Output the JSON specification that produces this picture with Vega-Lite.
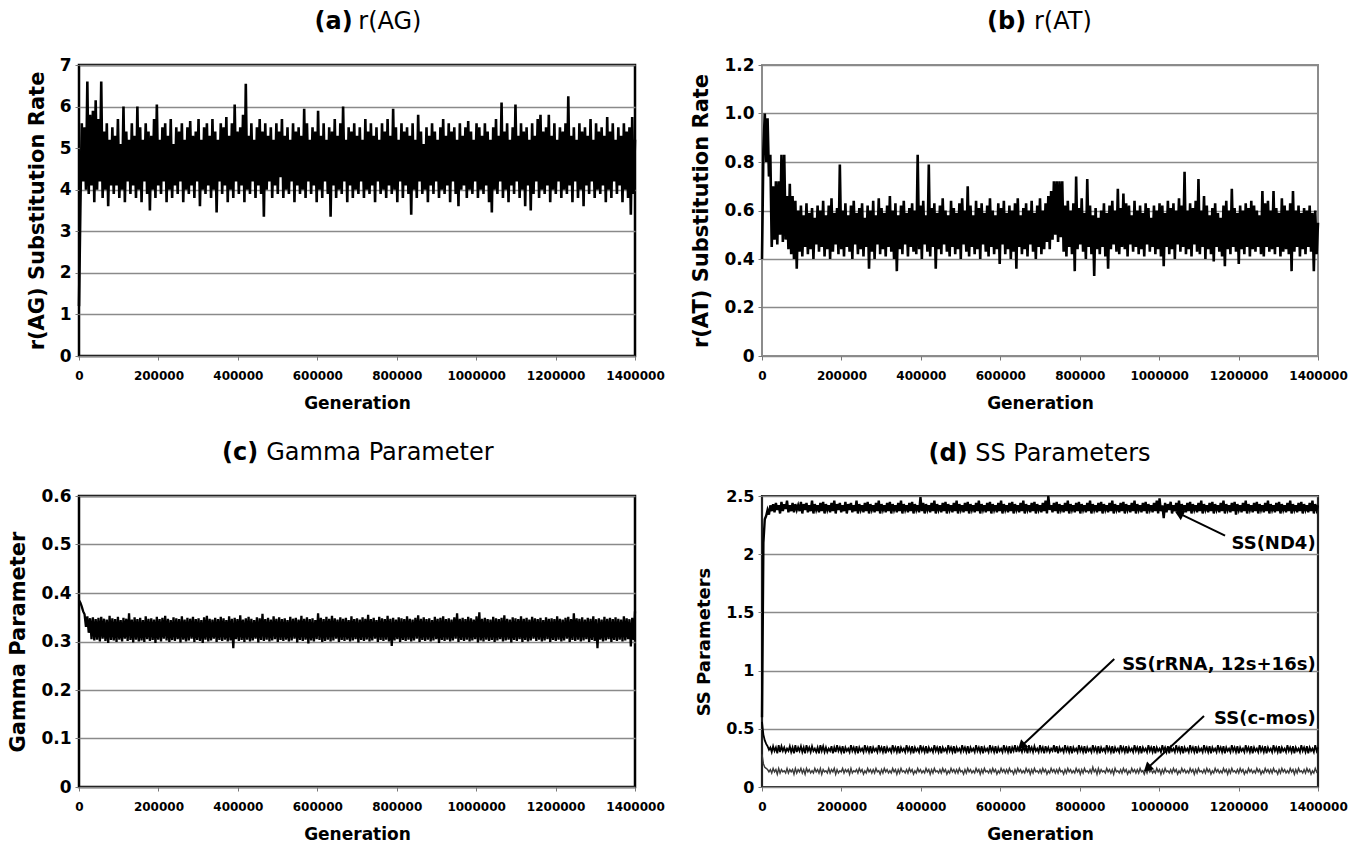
{
"$schema": "https://vega.github.io/schema/vega-lite/v6.json",
"padding": {"left": 6, "top": 8, "right": 0, "bottom": 0},
"background": "white",
"config": {
  "font": "DejaVu Sans",
  "view": {"stroke": "black", "strokeWidth": 2.5},
  "axis": {"domain": false, "labelColor": "black", "labelFontWeight": "bold", "titleColor": "black", "titleFontWeight": "bold", "tickColor": "#777", "tickSize": 4, "gridColor": "#8a8a8a", "gridWidth": 1.3},
  "axisX": {"grid": false, "labelFontSize": 12, "labelPadding": 10, "titleFontSize": 17, "titlePadding": 14, "labelFlush": false},
  "axisY": {"grid": true, "labelFontSize": 17, "labelPadding": 4, "titleFontSize": 21, "titlePadding": 12},
  "title": {"fontSize": 24, "fontWeight": "bold", "subtitleFontSize": 24, "subtitleFontWeight": "normal", "subtitlePadding": -24, "offset": 22, "color": "black", "subtitleColor": "black", "anchor": "middle"}
},
"data": {"values": [
{"g":0,"a":1.2,"b":0.40,"c":0.385,"n":0.60,"r":0.56,"m":0.28},
{"g":3500,"a":3.6,"b":0.85,"c":0.380,"n":2.10,"r":0.45,"m":0.20},
{"g":7000,"a":5.6,"b":1.00,"c":0.372,"n":2.30,"r":0.40,"m":0.17},
{"g":10500,"a":4.2,"b":0.80,"c":0.362,"n":2.33,"r":0.37,"m":0.16},
{"g":14000,"a":5.5,"b":0.98,"c":0.356,"n":2.38,"r":0.35,"m":0.15},
{"g":17500,"a":4.0,"b":0.74,"c":0.330,"n":2.34,"r":0.32,"m":0.13},
{"g":21000,"a":6.6,"b":0.83,"c":0.352,"n":2.42,"r":0.34,"m":0.15},
{"g":24500,"a":3.9,"b":0.45,"c":0.318,"n":2.37,"r":0.30,"m":0.12},
{"g":28000,"a":5.8,"b":0.70,"c":0.348,"n":2.43,"r":0.35,"m":0.16},
{"g":31500,"a":4.1,"b":0.48,"c":0.305,"n":2.36,"r":0.31,"m":0.13},
{"g":35000,"a":5.9,"b":0.72,"c":0.350,"n":2.44,"r":0.34,"m":0.15},
{"g":38500,"a":3.7,"b":0.46,"c":0.302,"n":2.38,"r":0.29,"m":0.11},
{"g":42000,"a":6.15,"b":0.72,"c":0.346,"n":2.42,"r":0.36,"m":0.16},
{"g":45500,"a":4.0,"b":0.50,"c":0.304,"n":2.35,"r":0.30,"m":0.12},
{"g":49000,"a":5.7,"b":0.83,"c":0.349,"n":2.45,"r":0.35,"m":0.15},
{"g":52500,"a":4.2,"b":0.47,"c":0.300,"n":2.37,"r":0.31,"m":0.13},
{"g":56000,"a":6.6,"b":0.83,"c":0.351,"n":2.43,"r":0.34,"m":0.14},
{"g":59500,"a":3.8,"b":0.48,"c":0.306,"n":2.39,"r":0.30,"m":0.12},
{"g":63000,"a":5.4,"b":0.66,"c":0.347,"n":2.46,"r":0.33,"m":0.16},
{"g":66500,"a":4.0,"b":0.44,"c":0.301,"n":2.36,"r":0.31,"m":0.12},
{"g":70000,"a":5.6,"b":0.71,"c":0.345,"n":2.42,"r":0.35,"m":0.15},
{"g":73500,"a":3.6,"b":0.42,"c":0.297,"n":2.37,"r":0.30,"m":0.13},
{"g":77000,"a":5.2,"b":0.66,"c":0.353,"n":2.44,"r":0.34,"m":0.15},
{"g":80500,"a":4.1,"b":0.40,"c":0.303,"n":2.36,"r":0.29,"m":0.11},
{"g":84000,"a":5.5,"b":0.64,"c":0.348,"n":2.43,"r":0.36,"m":0.16},
{"g":87500,"a":3.9,"b":0.36,"c":0.302,"n":2.38,"r":0.30,"m":0.12},
{"g":91000,"a":5.3,"b":0.60,"c":0.346,"n":2.42,"r":0.34,"m":0.15},
{"g":94500,"a":4.1,"b":0.43,"c":0.299,"n":2.37,"r":0.31,"m":0.13},
{"g":98000,"a":5.7,"b":0.62,"c":0.351,"n":2.45,"r":0.35,"m":0.16},
{"g":101500,"a":3.8,"b":0.41,"c":0.304,"n":2.35,"r":0.30,"m":0.12},
{"g":105000,"a":5.1,"b":0.58,"c":0.344,"n":2.43,"r":0.34,"m":0.15},
{"g":108500,"a":4.0,"b":0.45,"c":0.300,"n":2.38,"r":0.29,"m":0.11},
{"g":112000,"a":6.0,"b":0.63,"c":0.349,"n":2.44,"r":0.36,"m":0.16},
{"g":115500,"a":3.7,"b":0.42,"c":0.306,"n":2.36,"r":0.31,"m":0.13},
{"g":119000,"a":5.4,"b":0.59,"c":0.347,"n":2.42,"r":0.34,"m":0.15},
{"g":122500,"a":4.2,"b":0.44,"c":0.301,"n":2.37,"r":0.30,"m":0.12},
{"g":126000,"a":5.2,"b":0.61,"c":0.358,"n":2.46,"r":0.35,"m":0.14},
{"g":129500,"a":3.9,"b":0.40,"c":0.303,"n":2.35,"r":0.31,"m":0.12},
{"g":133000,"a":5.6,"b":0.57,"c":0.345,"n":2.43,"r":0.33,"m":0.16},
{"g":136500,"a":4.1,"b":0.46,"c":0.298,"n":2.38,"r":0.30,"m":0.13},
{"g":140000,"a":5.3,"b":0.62,"c":0.350,"n":2.42,"r":0.34,"m":0.15},
{"g":143500,"a":3.8,"b":0.43,"c":0.304,"n":2.36,"r":0.29,"m":0.12},
{"g":147000,"a":6.0,"b":0.60,"c":0.346,"n":2.44,"r":0.36,"m":0.16},
{"g":150500,"a":4.0,"b":0.45,"c":0.300,"n":2.37,"r":0.31,"m":0.11},
{"g":154000,"a":5.5,"b":0.64,"c":0.349,"n":2.45,"r":0.35,"m":0.15},
{"g":157500,"a":3.7,"b":0.41,"c":0.302,"n":2.35,"r":0.30,"m":0.13},
{"g":161000,"a":5.2,"b":0.58,"c":0.344,"n":2.43,"r":0.34,"m":0.14},
{"g":164500,"a":4.2,"b":0.44,"c":0.299,"n":2.38,"r":0.30,"m":0.12},
{"g":168000,"a":5.6,"b":0.62,"c":0.352,"n":2.42,"r":0.33,"m":0.16},
{"g":171500,"a":3.9,"b":0.40,"c":0.305,"n":2.36,"r":0.31,"m":0.12},
{"g":175000,"a":5.4,"b":0.65,"c":0.347,"n":2.44,"r":0.35,"m":0.15},
{"g":178500,"a":3.5,"b":0.43,"c":0.301,"n":2.37,"r":0.29,"m":0.13},
{"g":182000,"a":5.3,"b":0.59,"c":0.348,"n":2.46,"r":0.34,"m":0.16},
{"g":185500,"a":4.0,"b":0.46,"c":0.303,"n":2.35,"r":0.30,"m":0.11},
{"g":189000,"a":5.7,"b":0.61,"c":0.345,"n":2.43,"r":0.36,"m":0.15},
{"g":192500,"a":3.8,"b":0.42,"c":0.297,"n":2.38,"r":0.31,"m":0.12},
{"g":196000,"a":6.05,"b":0.79,"c":0.351,"n":2.44,"r":0.34,"m":0.14},
{"g":199500,"a":4.1,"b":0.44,"c":0.304,"n":2.36,"r":0.30,"m":0.13},
{"g":203000,"a":5.2,"b":0.60,"c":0.346,"n":2.42,"r":0.35,"m":0.16},
{"g":206500,"a":3.9,"b":0.41,"c":0.300,"n":2.37,"r":0.29,"m":0.12},
{"g":210000,"a":5.5,"b":0.63,"c":0.349,"n":2.45,"r":0.34,"m":0.15},
{"g":213500,"a":4.2,"b":0.45,"c":0.306,"n":2.35,"r":0.31,"m":0.13},
{"g":217000,"a":5.6,"b":0.58,"c":0.353,"n":2.43,"r":0.33,"m":0.15},
{"g":220500,"a":3.7,"b":0.43,"c":0.302,"n":2.38,"r":0.30,"m":0.11},
{"g":224000,"a":5.3,"b":0.62,"c":0.347,"n":2.44,"r":0.36,"m":0.16},
{"g":227500,"a":4.0,"b":0.40,"c":0.299,"n":2.36,"r":0.31,"m":0.12},
{"g":231000,"a":5.7,"b":0.64,"c":0.344,"n":2.42,"r":0.34,"m":0.14},
{"g":234500,"a":3.8,"b":0.46,"c":0.303,"n":2.37,"r":0.30,"m":0.13},
{"g":238000,"a":5.1,"b":0.59,"c":0.350,"n":2.46,"r":0.35,"m":0.15},
{"g":241500,"a":4.1,"b":0.42,"c":0.301,"n":2.35,"r":0.29,"m":0.12},
{"g":245000,"a":5.5,"b":0.61,"c":0.348,"n":2.43,"r":0.34,"m":0.16},
{"g":248500,"a":3.9,"b":0.44,"c":0.305,"n":2.38,"r":0.31,"m":0.13},
{"g":252000,"a":5.4,"b":0.63,"c":0.346,"n":2.42,"r":0.33,"m":0.15},
{"g":255500,"a":4.2,"b":0.41,"c":0.298,"n":2.36,"r":0.30,"m":0.11},
{"g":259000,"a":5.6,"b":0.57,"c":0.352,"n":2.44,"r":0.36,"m":0.14},
{"g":262500,"a":3.7,"b":0.45,"c":0.304,"n":2.37,"r":0.31,"m":0.12},
{"g":266000,"a":5.2,"b":0.62,"c":0.345,"n":2.45,"r":0.34,"m":0.16},
{"g":269500,"a":4.0,"b":0.36,"c":0.300,"n":2.35,"r":0.30,"m":0.13},
{"g":273000,"a":5.5,"b":0.60,"c":0.349,"n":2.43,"r":0.35,"m":0.15},
{"g":276500,"a":3.9,"b":0.43,"c":0.302,"n":2.38,"r":0.29,"m":0.12},
{"g":280000,"a":5.65,"b":0.64,"c":0.347,"n":2.42,"r":0.34,"m":0.15},
{"g":283500,"a":4.1,"b":0.40,"c":0.306,"n":2.36,"r":0.31,"m":0.12},
{"g":287000,"a":5.3,"b":0.58,"c":0.351,"n":2.44,"r":0.33,"m":0.16},
{"g":290500,"a":3.8,"b":0.46,"c":0.299,"n":2.37,"r":0.30,"m":0.13},
{"g":294000,"a":5.4,"b":0.65,"c":0.346,"n":2.46,"r":0.36,"m":0.14},
{"g":297500,"a":4.2,"b":0.42,"c":0.303,"n":2.35,"r":0.31,"m":0.11},
{"g":301000,"a":5.7,"b":0.61,"c":0.348,"n":2.43,"r":0.34,"m":0.15},
{"g":304500,"a":3.6,"b":0.44,"c":0.301,"n":2.38,"r":0.30,"m":0.12},
{"g":308000,"a":5.2,"b":0.59,"c":0.344,"n":2.42,"r":0.35,"m":0.16},
{"g":311500,"a":4.0,"b":0.41,"c":0.297,"n":2.36,"r":0.29,"m":0.13},
{"g":315000,"a":5.5,"b":0.62,"c":0.350,"n":2.44,"r":0.34,"m":0.15},
{"g":318500,"a":3.9,"b":0.45,"c":0.304,"n":2.37,"r":0.31,"m":0.12},
{"g":322000,"a":5.6,"b":0.66,"c":0.353,"n":2.45,"r":0.33,"m":0.14},
{"g":325500,"a":4.1,"b":0.43,"c":0.300,"n":2.35,"r":0.30,"m":0.12},
{"g":329000,"a":5.3,"b":0.60,"c":0.347,"n":2.43,"r":0.36,"m":0.16},
{"g":332500,"a":3.8,"b":0.40,"c":0.302,"n":2.38,"r":0.31,"m":0.13},
{"g":336000,"a":5.7,"b":0.63,"c":0.345,"n":2.42,"r":0.34,"m":0.15},
{"g":339500,"a":4.0,"b":0.35,"c":0.306,"n":2.36,"r":0.30,"m":0.11},
{"g":343000,"a":5.4,"b":0.58,"c":0.349,"n":2.44,"r":0.35,"m":0.15},
{"g":346500,"a":3.45,"b":0.44,"c":0.299,"n":2.37,"r":0.29,"m":0.12},
{"g":350000,"a":5.2,"b":0.62,"c":0.346,"n":2.46,"r":0.34,"m":0.16},
{"g":353500,"a":4.2,"b":0.42,"c":0.303,"n":2.35,"r":0.31,"m":0.13},
{"g":357000,"a":5.6,"b":0.64,"c":0.351,"n":2.43,"r":0.33,"m":0.14},
{"g":360500,"a":3.9,"b":0.46,"c":0.301,"n":2.38,"r":0.30,"m":0.12},
{"g":364000,"a":5.5,"b":0.59,"c":0.348,"n":2.42,"r":0.36,"m":0.15},
{"g":367500,"a":4.1,"b":0.41,"c":0.304,"n":2.36,"r":0.31,"m":0.12},
{"g":371000,"a":5.75,"b":0.61,"c":0.344,"n":2.44,"r":0.34,"m":0.16},
{"g":374500,"a":3.7,"b":0.45,"c":0.300,"n":2.37,"r":0.30,"m":0.13},
{"g":378000,"a":5.3,"b":0.63,"c":0.352,"n":2.45,"r":0.35,"m":0.15},
{"g":381500,"a":4.0,"b":0.43,"c":0.302,"n":2.35,"r":0.29,"m":0.11},
{"g":385000,"a":5.6,"b":0.60,"c":0.347,"n":2.43,"r":0.34,"m":0.14},
{"g":388500,"a":3.8,"b":0.42,"c":0.286,"n":2.38,"r":0.31,"m":0.12},
{"g":392000,"a":6.05,"b":0.83,"c":0.349,"n":2.42,"r":0.33,"m":0.16},
{"g":395500,"a":4.2,"b":0.44,"c":0.305,"n":2.36,"r":0.30,"m":0.13},
{"g":399000,"a":5.4,"b":0.62,"c":0.346,"n":2.49,"r":0.36,"m":0.15},
{"g":402500,"a":3.9,"b":0.40,"c":0.301,"n":2.37,"r":0.31,"m":0.12},
{"g":406000,"a":5.5,"b":0.64,"c":0.354,"n":2.44,"r":0.34,"m":0.14},
{"g":409500,"a":4.1,"b":0.46,"c":0.303,"n":2.35,"r":0.30,"m":0.12},
{"g":413000,"a":5.8,"b":0.58,"c":0.345,"n":2.43,"r":0.35,"m":0.16},
{"g":416500,"a":3.7,"b":0.43,"c":0.299,"n":2.38,"r":0.29,"m":0.13},
{"g":420000,"a":6.55,"b":0.79,"c":0.348,"n":2.42,"r":0.34,"m":0.15},
{"g":423500,"a":4.0,"b":0.41,"c":0.304,"n":2.36,"r":0.31,"m":0.11},
{"g":427000,"a":5.3,"b":0.61,"c":0.351,"n":2.44,"r":0.33,"m":0.15},
{"g":430500,"a":3.9,"b":0.45,"c":0.300,"n":2.37,"r":0.30,"m":0.12},
{"g":434000,"a":5.6,"b":0.63,"c":0.347,"n":2.46,"r":0.36,"m":0.16},
{"g":437500,"a":4.2,"b":0.36,"c":0.302,"n":2.35,"r":0.31,"m":0.13},
{"g":441000,"a":5.2,"b":0.59,"c":0.344,"n":2.43,"r":0.34,"m":0.14},
{"g":444500,"a":3.8,"b":0.44,"c":0.306,"n":2.38,"r":0.30,"m":0.12},
{"g":448000,"a":5.5,"b":0.62,"c":0.350,"n":2.42,"r":0.35,"m":0.15},
{"g":451500,"a":4.1,"b":0.42,"c":0.298,"n":2.36,"r":0.29,"m":0.12},
{"g":455000,"a":5.7,"b":0.65,"c":0.348,"n":2.44,"r":0.34,"m":0.16},
{"g":458500,"a":3.9,"b":0.46,"c":0.303,"n":2.37,"r":0.31,"m":0.13},
{"g":462000,"a":5.4,"b":0.60,"c":0.357,"n":2.45,"r":0.33,"m":0.15},
{"g":465500,"a":3.35,"b":0.43,"c":0.301,"n":2.35,"r":0.30,"m":0.11},
{"g":469000,"a":5.6,"b":0.58,"c":0.346,"n":2.43,"r":0.36,"m":0.14},
{"g":472500,"a":4.0,"b":0.41,"c":0.304,"n":2.38,"r":0.31,"m":0.12},
{"g":476000,"a":5.3,"b":0.64,"c":0.349,"n":2.42,"r":0.34,"m":0.16},
{"g":479500,"a":4.2,"b":0.45,"c":0.300,"n":2.36,"r":0.30,"m":0.13},
{"g":483000,"a":5.5,"b":0.61,"c":0.345,"n":2.44,"r":0.35,"m":0.15},
{"g":486500,"a":3.8,"b":0.42,"c":0.302,"n":2.37,"r":0.29,"m":0.12},
{"g":490000,"a":5.2,"b":0.59,"c":0.352,"n":2.46,"r":0.34,"m":0.15},
{"g":493500,"a":4.1,"b":0.44,"c":0.305,"n":2.35,"r":0.31,"m":0.12},
{"g":497000,"a":5.6,"b":0.63,"c":0.347,"n":2.43,"r":0.33,"m":0.16},
{"g":500500,"a":3.9,"b":0.40,"c":0.299,"n":2.38,"r":0.30,"m":0.13},
{"g":504000,"a":5.4,"b":0.65,"c":0.350,"n":2.42,"r":0.36,"m":0.14},
{"g":507500,"a":4.3,"b":0.46,"c":0.303,"n":2.36,"r":0.31,"m":0.11},
{"g":511000,"a":5.7,"b":0.60,"c":0.346,"n":2.44,"r":0.34,"m":0.15},
{"g":514500,"a":3.8,"b":0.43,"c":0.301,"n":2.37,"r":0.30,"m":0.12},
{"g":518000,"a":5.3,"b":0.70,"c":0.348,"n":2.45,"r":0.35,"m":0.16},
{"g":521500,"a":4.0,"b":0.41,"c":0.304,"n":2.35,"r":0.29,"m":0.13},
{"g":525000,"a":5.5,"b":0.62,"c":0.344,"n":2.43,"r":0.34,"m":0.15},
{"g":528500,"a":3.9,"b":0.45,"c":0.300,"n":2.38,"r":0.31,"m":0.12},
{"g":532000,"a":5.2,"b":0.58,"c":0.351,"n":2.42,"r":0.33,"m":0.14},
{"g":535500,"a":4.2,"b":0.42,"c":0.302,"n":2.36,"r":0.30,"m":0.12},
{"g":539000,"a":5.6,"b":0.64,"c":0.347,"n":2.44,"r":0.36,"m":0.16},
{"g":542500,"a":3.7,"b":0.44,"c":0.306,"n":2.37,"r":0.31,"m":0.13},
{"g":546000,"a":5.4,"b":0.61,"c":0.349,"n":2.46,"r":0.34,"m":0.15},
{"g":549500,"a":4.1,"b":0.40,"c":0.298,"n":2.35,"r":0.30,"m":0.11},
{"g":553000,"a":5.5,"b":0.63,"c":0.345,"n":2.43,"r":0.35,"m":0.15},
{"g":556500,"a":3.9,"b":0.46,"c":0.303,"n":2.38,"r":0.29,"m":0.12},
{"g":560000,"a":5.3,"b":0.59,"c":0.353,"n":2.42,"r":0.34,"m":0.16},
{"g":563500,"a":4.0,"b":0.43,"c":0.301,"n":2.36,"r":0.31,"m":0.13},
{"g":567000,"a":5.95,"b":0.62,"c":0.347,"n":2.44,"r":0.33,"m":0.14},
{"g":570500,"a":3.8,"b":0.41,"c":0.304,"n":2.37,"r":0.30,"m":0.12},
{"g":574000,"a":5.6,"b":0.65,"c":0.350,"n":2.45,"r":0.36,"m":0.15},
{"g":577500,"a":4.2,"b":0.45,"c":0.296,"n":2.35,"r":0.31,"m":0.12},
{"g":581000,"a":5.2,"b":0.60,"c":0.346,"n":2.43,"r":0.34,"m":0.16},
{"g":584500,"a":3.9,"b":0.42,"c":0.302,"n":2.38,"r":0.30,"m":0.13},
{"g":588000,"a":5.5,"b":0.58,"c":0.348,"n":2.42,"r":0.35,"m":0.15},
{"g":591500,"a":4.1,"b":0.44,"c":0.300,"n":2.36,"r":0.29,"m":0.11},
{"g":595000,"a":5.4,"b":0.63,"c":0.344,"n":2.44,"r":0.34,"m":0.14},
{"g":598500,"a":3.7,"b":0.38,"c":0.305,"n":2.37,"r":0.31,"m":0.12},
{"g":602000,"a":5.9,"b":0.61,"c":0.358,"n":2.46,"r":0.33,"m":0.16},
{"g":605500,"a":4.0,"b":0.46,"c":0.303,"n":2.35,"r":0.30,"m":0.13},
{"g":609000,"a":5.3,"b":0.64,"c":0.349,"n":2.43,"r":0.36,"m":0.15},
{"g":612500,"a":3.8,"b":0.42,"c":0.299,"n":2.38,"r":0.31,"m":0.12},
{"g":616000,"a":5.6,"b":0.59,"c":0.346,"n":2.42,"r":0.34,"m":0.15},
{"g":619500,"a":4.2,"b":0.44,"c":0.301,"n":2.36,"r":0.30,"m":0.12},
{"g":623000,"a":5.2,"b":0.62,"c":0.351,"n":2.44,"r":0.35,"m":0.16},
{"g":626500,"a":3.9,"b":0.40,"c":0.304,"n":2.37,"r":0.29,"m":0.13},
{"g":630000,"a":5.5,"b":0.60,"c":0.347,"n":2.45,"r":0.34,"m":0.14},
{"g":633500,"a":3.35,"b":0.43,"c":0.300,"n":2.35,"r":0.31,"m":0.11},
{"g":637000,"a":5.4,"b":0.63,"c":0.353,"n":2.43,"r":0.36,"m":0.15},
{"g":640500,"a":4.1,"b":0.36,"c":0.302,"n":2.38,"r":0.30,"m":0.12},
{"g":644000,"a":5.7,"b":0.65,"c":0.348,"n":2.42,"r":0.34,"m":0.16},
{"g":647500,"a":3.8,"b":0.45,"c":0.306,"n":2.36,"r":0.31,"m":0.13},
{"g":651000,"a":5.3,"b":0.58,"c":0.345,"n":2.44,"r":0.33,"m":0.15},
{"g":654500,"a":4.0,"b":0.42,"c":0.299,"n":2.37,"r":0.30,"m":0.12},
{"g":658000,"a":5.6,"b":0.61,"c":0.350,"n":2.46,"r":0.35,"m":0.14},
{"g":661500,"a":3.9,"b":0.44,"c":0.303,"n":2.35,"r":0.31,"m":0.12},
{"g":665000,"a":6.0,"b":0.63,"c":0.347,"n":2.43,"r":0.34,"m":0.16},
{"g":668500,"a":4.2,"b":0.41,"c":0.301,"n":2.38,"r":0.29,"m":0.13},
{"g":672000,"a":5.2,"b":0.60,"c":0.349,"n":2.42,"r":0.36,"m":0.15},
{"g":675500,"a":3.7,"b":0.46,"c":0.304,"n":2.36,"r":0.31,"m":0.11},
{"g":679000,"a":5.5,"b":0.64,"c":0.344,"n":2.44,"r":0.34,"m":0.15},
{"g":682500,"a":4.1,"b":0.43,"c":0.300,"n":2.37,"r":0.30,"m":0.12},
{"g":686000,"a":5.4,"b":0.59,"c":0.352,"n":2.45,"r":0.35,"m":0.16},
{"g":689500,"a":3.8,"b":0.40,"c":0.302,"n":2.35,"r":0.31,"m":0.13},
{"g":693000,"a":5.6,"b":0.62,"c":0.346,"n":2.43,"r":0.33,"m":0.14},
{"g":696500,"a":4.0,"b":0.45,"c":0.305,"n":2.38,"r":0.30,"m":0.12},
{"g":700000,"a":5.3,"b":0.65,"c":0.348,"n":2.42,"r":0.36,"m":0.15},
{"g":703500,"a":3.9,"b":0.42,"c":0.298,"n":2.36,"r":0.31,"m":0.12},
{"g":707000,"a":5.5,"b":0.60,"c":0.345,"n":2.44,"r":0.34,"m":0.16},
{"g":710500,"a":4.2,"b":0.44,"c":0.303,"n":2.37,"r":0.29,"m":0.13},
{"g":714000,"a":5.2,"b":0.63,"c":0.350,"n":2.46,"r":0.35,"m":0.15},
{"g":717500,"a":3.8,"b":0.47,"c":0.301,"n":2.35,"r":0.31,"m":0.11},
{"g":721000,"a":5.7,"b":0.66,"c":0.347,"n":2.50,"r":0.34,"m":0.14},
{"g":724500,"a":4.0,"b":0.44,"c":0.304,"n":2.38,"r":0.30,"m":0.12},
{"g":728000,"a":5.4,"b":0.68,"c":0.355,"n":2.42,"r":0.33,"m":0.16},
{"g":731500,"a":3.9,"b":0.48,"c":0.300,"n":2.36,"r":0.31,"m":0.13},
{"g":735000,"a":5.6,"b":0.72,"c":0.346,"n":2.44,"r":0.36,"m":0.15},
{"g":738500,"a":4.1,"b":0.50,"c":0.302,"n":2.37,"r":0.30,"m":0.12},
{"g":742000,"a":5.3,"b":0.72,"c":0.349,"n":2.45,"r":0.35,"m":0.15},
{"g":745500,"a":3.7,"b":0.47,"c":0.306,"n":2.35,"r":0.29,"m":0.12},
{"g":749000,"a":5.5,"b":0.72,"c":0.344,"n":2.43,"r":0.34,"m":0.16},
{"g":752500,"a":4.2,"b":0.49,"c":0.299,"n":2.38,"r":0.31,"m":0.13},
{"g":756000,"a":5.2,"b":0.72,"c":0.351,"n":2.42,"r":0.33,"m":0.14},
{"g":759500,"a":3.9,"b":0.43,"c":0.303,"n":2.36,"r":0.30,"m":0.11},
{"g":763000,"a":5.6,"b":0.62,"c":0.348,"n":2.44,"r":0.36,"m":0.15},
{"g":766500,"a":4.0,"b":0.41,"c":0.301,"n":2.37,"r":0.31,"m":0.12},
{"g":770000,"a":5.4,"b":0.64,"c":0.346,"n":2.46,"r":0.34,"m":0.16},
{"g":773500,"a":3.8,"b":0.45,"c":0.304,"n":2.35,"r":0.30,"m":0.13},
{"g":777000,"a":5.7,"b":0.60,"c":0.353,"n":2.43,"r":0.35,"m":0.15},
{"g":780500,"a":4.1,"b":0.42,"c":0.300,"n":2.38,"r":0.29,"m":0.12},
{"g":784000,"a":5.3,"b":0.63,"c":0.347,"n":2.42,"r":0.34,"m":0.14},
{"g":787500,"a":3.9,"b":0.35,"c":0.291,"n":2.36,"r":0.31,"m":0.12},
{"g":791000,"a":5.95,"b":0.74,"c":0.349,"n":2.44,"r":0.33,"m":0.16},
{"g":794500,"a":4.0,"b":0.44,"c":0.302,"n":2.37,"r":0.30,"m":0.13},
{"g":798000,"a":5.5,"b":0.61,"c":0.345,"n":2.45,"r":0.36,"m":0.15},
{"g":801500,"a":3.7,"b":0.46,"c":0.305,"n":2.35,"r":0.31,"m":0.11},
{"g":805000,"a":5.2,"b":0.65,"c":0.350,"n":2.43,"r":0.34,"m":0.15},
{"g":808500,"a":4.2,"b":0.43,"c":0.299,"n":2.38,"r":0.30,"m":0.12},
{"g":812000,"a":5.6,"b":0.59,"c":0.348,"n":2.42,"r":0.35,"m":0.16},
{"g":815500,"a":3.8,"b":0.40,"c":0.303,"n":2.36,"r":0.29,"m":0.13},
{"g":819000,"a":5.4,"b":0.73,"c":0.346,"n":2.44,"r":0.34,"m":0.14},
{"g":822500,"a":4.1,"b":0.45,"c":0.301,"n":2.37,"r":0.31,"m":0.12},
{"g":826000,"a":5.5,"b":0.62,"c":0.352,"n":2.46,"r":0.33,"m":0.15},
{"g":829500,"a":3.9,"b":0.42,"c":0.304,"n":2.35,"r":0.30,"m":0.12},
{"g":833000,"a":5.3,"b":0.58,"c":0.347,"n":2.43,"r":0.36,"m":0.17},
{"g":836500,"a":3.4,"b":0.33,"c":0.300,"n":2.38,"r":0.31,"m":0.13},
{"g":840000,"a":5.6,"b":0.61,"c":0.345,"n":2.42,"r":0.34,"m":0.15},
{"g":843500,"a":4.0,"b":0.44,"c":0.302,"n":2.36,"r":0.30,"m":0.11},
{"g":847000,"a":5.2,"b":0.57,"c":0.349,"n":2.44,"r":0.35,"m":0.16},
{"g":850500,"a":3.8,"b":0.42,"c":0.306,"n":2.37,"r":0.29,"m":0.12},
{"g":854000,"a":5.8,"b":0.60,"c":0.354,"n":2.45,"r":0.34,"m":0.15},
{"g":857500,"a":4.2,"b":0.45,"c":0.299,"n":2.35,"r":0.31,"m":0.13},
{"g":861000,"a":5.4,"b":0.63,"c":0.347,"n":2.43,"r":0.33,"m":0.14},
{"g":864500,"a":3.9,"b":0.41,"c":0.303,"n":2.38,"r":0.30,"m":0.12},
{"g":868000,"a":5.1,"b":0.59,"c":0.350,"n":2.42,"r":0.36,"m":0.16},
{"g":871500,"a":4.0,"b":0.36,"c":0.301,"n":2.36,"r":0.31,"m":0.13},
{"g":875000,"a":5.5,"b":0.62,"c":0.346,"n":2.44,"r":0.34,"m":0.15},
{"g":878500,"a":3.7,"b":0.44,"c":0.304,"n":2.37,"r":0.30,"m":0.12},
{"g":882000,"a":5.3,"b":0.64,"c":0.348,"n":2.46,"r":0.35,"m":0.15},
{"g":885500,"a":4.1,"b":0.46,"c":0.300,"n":2.35,"r":0.29,"m":0.11},
{"g":889000,"a":5.6,"b":0.60,"c":0.344,"n":2.43,"r":0.34,"m":0.16},
{"g":892500,"a":3.9,"b":0.43,"c":0.302,"n":2.38,"r":0.31,"m":0.13},
{"g":896000,"a":5.4,"b":0.69,"c":0.351,"n":2.42,"r":0.33,"m":0.14},
{"g":899500,"a":4.2,"b":0.42,"c":0.305,"n":2.36,"r":0.30,"m":0.12},
{"g":903000,"a":5.2,"b":0.61,"c":0.347,"n":2.44,"r":0.36,"m":0.15},
{"g":906500,"a":3.8,"b":0.45,"c":0.297,"n":2.37,"r":0.31,"m":0.12},
{"g":910000,"a":5.5,"b":0.67,"c":0.349,"n":2.45,"r":0.34,"m":0.16},
{"g":913500,"a":4.0,"b":0.44,"c":0.303,"n":2.35,"r":0.30,"m":0.13},
{"g":917000,"a":5.7,"b":0.63,"c":0.352,"n":2.43,"r":0.35,"m":0.15},
{"g":920500,"a":3.9,"b":0.41,"c":0.301,"n":2.38,"r":0.29,"m":0.11},
{"g":924000,"a":5.3,"b":0.62,"c":0.346,"n":2.42,"r":0.34,"m":0.14},
{"g":927500,"a":4.1,"b":0.46,"c":0.304,"n":2.36,"r":0.31,"m":0.12},
{"g":931000,"a":5.6,"b":0.58,"c":0.348,"n":2.44,"r":0.33,"m":0.16},
{"g":934500,"a":3.7,"b":0.43,"c":0.300,"n":2.37,"r":0.30,"m":0.13},
{"g":938000,"a":5.4,"b":0.64,"c":0.345,"n":2.46,"r":0.36,"m":0.15},
{"g":941500,"a":4.2,"b":0.45,"c":0.302,"n":2.35,"r":0.31,"m":0.12},
{"g":945000,"a":5.5,"b":0.60,"c":0.350,"n":2.43,"r":0.34,"m":0.15},
{"g":948500,"a":3.9,"b":0.42,"c":0.306,"n":2.38,"r":0.30,"m":0.12},
{"g":952000,"a":5.2,"b":0.62,"c":0.358,"n":2.42,"r":0.35,"m":0.16},
{"g":955500,"a":3.6,"b":0.44,"c":0.299,"n":2.36,"r":0.29,"m":0.13},
{"g":959000,"a":5.6,"b":0.59,"c":0.347,"n":2.44,"r":0.34,"m":0.14},
{"g":962500,"a":4.0,"b":0.41,"c":0.303,"n":2.37,"r":0.31,"m":0.11},
{"g":966000,"a":5.3,"b":0.63,"c":0.349,"n":2.45,"r":0.33,"m":0.15},
{"g":969500,"a":4.1,"b":0.46,"c":0.301,"n":2.35,"r":0.30,"m":0.12},
{"g":973000,"a":5.5,"b":0.61,"c":0.346,"n":2.43,"r":0.36,"m":0.16},
{"g":976500,"a":3.8,"b":0.43,"c":0.304,"n":2.38,"r":0.31,"m":0.13},
{"g":980000,"a":5.65,"b":0.57,"c":0.351,"n":2.42,"r":0.34,"m":0.15},
{"g":983500,"a":4.0,"b":0.45,"c":0.300,"n":2.36,"r":0.30,"m":0.12},
{"g":987000,"a":5.4,"b":0.62,"c":0.348,"n":2.44,"r":0.35,"m":0.14},
{"g":990500,"a":3.9,"b":0.42,"c":0.302,"n":2.37,"r":0.29,"m":0.12},
{"g":994000,"a":5.2,"b":0.60,"c":0.345,"n":2.46,"r":0.34,"m":0.16},
{"g":997500,"a":4.2,"b":0.44,"c":0.305,"n":2.35,"r":0.31,"m":0.13},
{"g":1001000,"a":5.6,"b":0.63,"c":0.352,"n":2.48,"r":0.33,"m":0.15},
{"g":1004500,"a":3.8,"b":0.41,"c":0.298,"n":2.37,"r":0.30,"m":0.11},
{"g":1008000,"a":5.5,"b":0.62,"c":0.360,"n":2.42,"r":0.36,"m":0.15},
{"g":1011500,"a":4.0,"b":0.37,"c":0.302,"n":2.31,"r":0.31,"m":0.12},
{"g":1015000,"a":5.3,"b":0.59,"c":0.347,"n":2.44,"r":0.34,"m":0.16},
{"g":1018500,"a":3.9,"b":0.45,"c":0.300,"n":2.36,"r":0.30,"m":0.13},
{"g":1022000,"a":5.6,"b":0.64,"c":0.349,"n":2.43,"r":0.35,"m":0.14},
{"g":1025500,"a":4.1,"b":0.42,"c":0.304,"n":2.38,"r":0.29,"m":0.12},
{"g":1029000,"a":5.4,"b":0.61,"c":0.346,"n":2.45,"r":0.34,"m":0.15},
{"g":1032500,"a":3.7,"b":0.44,"c":0.301,"n":2.35,"r":0.31,"m":0.12},
{"g":1036000,"a":5.2,"b":0.63,"c":0.345,"n":2.42,"r":0.33,"m":0.16},
{"g":1039500,"a":3.45,"b":0.40,"c":0.303,"n":2.37,"r":0.30,"m":0.13},
{"g":1043000,"a":5.5,"b":0.60,"c":0.351,"n":2.44,"r":0.36,"m":0.15},
{"g":1046500,"a":4.0,"b":0.46,"c":0.299,"n":2.36,"r":0.31,"m":0.11},
{"g":1050000,"a":5.7,"b":0.65,"c":0.348,"n":2.46,"r":0.34,"m":0.14},
{"g":1053500,"a":3.9,"b":0.43,"c":0.302,"n":2.35,"r":0.30,"m":0.12},
{"g":1057000,"a":5.3,"b":0.62,"c":0.346,"n":2.43,"r":0.35,"m":0.16},
{"g":1060500,"a":4.2,"b":0.45,"c":0.305,"n":2.38,"r":0.29,"m":0.13},
{"g":1064000,"a":6.1,"b":0.76,"c":0.349,"n":2.42,"r":0.34,"m":0.15},
{"g":1067500,"a":3.8,"b":0.42,"c":0.300,"n":2.36,"r":0.31,"m":0.12},
{"g":1071000,"a":5.4,"b":0.60,"c":0.354,"n":2.44,"r":0.33,"m":0.14},
{"g":1074500,"a":4.0,"b":0.44,"c":0.302,"n":2.37,"r":0.30,"m":0.12},
{"g":1078000,"a":5.6,"b":0.63,"c":0.347,"n":2.45,"r":0.36,"m":0.16},
{"g":1081500,"a":3.7,"b":0.41,"c":0.304,"n":2.35,"r":0.31,"m":0.13},
{"g":1085000,"a":5.2,"b":0.61,"c":0.345,"n":2.43,"r":0.34,"m":0.15},
{"g":1088500,"a":4.1,"b":0.46,"c":0.298,"n":2.38,"r":0.30,"m":0.11},
{"g":1092000,"a":5.5,"b":0.64,"c":0.350,"n":2.42,"r":0.35,"m":0.15},
{"g":1095500,"a":3.9,"b":0.43,"c":0.303,"n":2.36,"r":0.29,"m":0.12},
{"g":1099000,"a":6.05,"b":0.73,"c":0.348,"n":2.44,"r":0.34,"m":0.16},
{"g":1102500,"a":4.2,"b":0.42,"c":0.301,"n":2.37,"r":0.31,"m":0.13},
{"g":1106000,"a":5.3,"b":0.60,"c":0.346,"n":2.46,"r":0.33,"m":0.14},
{"g":1109500,"a":3.8,"b":0.45,"c":0.305,"n":2.35,"r":0.30,"m":0.12},
{"g":1113000,"a":5.6,"b":0.66,"c":0.352,"n":2.43,"r":0.36,"m":0.15},
{"g":1116500,"a":4.0,"b":0.40,"c":0.299,"n":2.38,"r":0.31,"m":0.12},
{"g":1120000,"a":5.4,"b":0.62,"c":0.347,"n":2.42,"r":0.34,"m":0.16},
{"g":1123500,"a":3.6,"b":0.44,"c":0.303,"n":2.36,"r":0.30,"m":0.13},
{"g":1127000,"a":5.5,"b":0.58,"c":0.349,"n":2.44,"r":0.35,"m":0.15},
{"g":1130500,"a":4.1,"b":0.42,"c":0.300,"n":2.37,"r":0.29,"m":0.11},
{"g":1134000,"a":5.2,"b":0.61,"c":0.345,"n":2.45,"r":0.34,"m":0.14},
{"g":1137500,"a":3.5,"b":0.39,"c":0.302,"n":2.35,"r":0.31,"m":0.12},
{"g":1141000,"a":5.6,"b":0.63,"c":0.351,"n":2.43,"r":0.33,"m":0.16},
{"g":1144500,"a":3.9,"b":0.45,"c":0.306,"n":2.38,"r":0.30,"m":0.13},
{"g":1148000,"a":5.3,"b":0.59,"c":0.348,"n":2.42,"r":0.36,"m":0.15},
{"g":1151500,"a":4.2,"b":0.43,"c":0.301,"n":2.36,"r":0.31,"m":0.12},
{"g":1155000,"a":5.7,"b":0.57,"c":0.346,"n":2.44,"r":0.34,"m":0.14},
{"g":1158500,"a":3.8,"b":0.41,"c":0.304,"n":2.37,"r":0.30,"m":0.12},
{"g":1162000,"a":5.8,"b":0.62,"c":0.349,"n":2.46,"r":0.35,"m":0.16},
{"g":1165500,"a":4.0,"b":0.37,"c":0.300,"n":2.35,"r":0.29,"m":0.13},
{"g":1169000,"a":5.4,"b":0.64,"c":0.344,"n":2.43,"r":0.34,"m":0.15},
{"g":1172500,"a":3.9,"b":0.44,"c":0.302,"n":2.38,"r":0.31,"m":0.11},
{"g":1176000,"a":5.5,"b":0.60,"c":0.350,"n":2.42,"r":0.33,"m":0.15},
{"g":1179500,"a":4.1,"b":0.42,"c":0.305,"n":2.36,"r":0.30,"m":0.12},
{"g":1183000,"a":5.8,"b":0.69,"c":0.347,"n":2.44,"r":0.36,"m":0.16},
{"g":1186500,"a":3.7,"b":0.45,"c":0.299,"n":2.37,"r":0.31,"m":0.13},
{"g":1190000,"a":5.3,"b":0.61,"c":0.348,"n":2.45,"r":0.34,"m":0.14},
{"g":1193500,"a":4.0,"b":0.43,"c":0.303,"n":2.34,"r":0.30,"m":0.12},
{"g":1197000,"a":5.6,"b":0.59,"c":0.346,"n":2.43,"r":0.35,"m":0.15},
{"g":1200500,"a":3.9,"b":0.38,"c":0.301,"n":2.38,"r":0.29,"m":0.12},
{"g":1204000,"a":5.2,"b":0.62,"c":0.352,"n":2.42,"r":0.34,"m":0.16},
{"g":1207500,"a":4.2,"b":0.44,"c":0.304,"n":2.36,"r":0.31,"m":0.13},
{"g":1211000,"a":5.5,"b":0.60,"c":0.347,"n":2.44,"r":0.33,"m":0.15},
{"g":1214500,"a":3.8,"b":0.42,"c":0.300,"n":2.37,"r":0.30,"m":0.11},
{"g":1218000,"a":5.4,"b":0.63,"c":0.345,"n":2.46,"r":0.36,"m":0.14},
{"g":1221500,"a":4.0,"b":0.45,"c":0.302,"n":2.35,"r":0.31,"m":0.12},
{"g":1225000,"a":5.6,"b":0.61,"c":0.349,"n":2.43,"r":0.34,"m":0.16},
{"g":1228500,"a":3.9,"b":0.41,"c":0.306,"n":2.38,"r":0.30,"m":0.13},
{"g":1232000,"a":6.25,"b":0.64,"c":0.351,"n":2.42,"r":0.35,"m":0.15},
{"g":1235500,"a":4.1,"b":0.44,"c":0.299,"n":2.36,"r":0.29,"m":0.12},
{"g":1239000,"a":5.3,"b":0.62,"c":0.346,"n":2.44,"r":0.34,"m":0.14},
{"g":1242500,"a":3.7,"b":0.43,"c":0.303,"n":2.37,"r":0.31,"m":0.12},
{"g":1246000,"a":5.5,"b":0.60,"c":0.358,"n":2.45,"r":0.33,"m":0.16},
{"g":1249500,"a":4.2,"b":0.45,"c":0.301,"n":2.35,"r":0.30,"m":0.13},
{"g":1253000,"a":5.2,"b":0.58,"c":0.348,"n":2.43,"r":0.36,"m":0.15},
{"g":1256500,"a":3.8,"b":0.42,"c":0.304,"n":2.38,"r":0.31,"m":0.11},
{"g":1260000,"a":5.6,"b":0.68,"c":0.347,"n":2.42,"r":0.34,"m":0.14},
{"g":1263500,"a":4.0,"b":0.41,"c":0.300,"n":2.36,"r":0.30,"m":0.12},
{"g":1267000,"a":5.4,"b":0.63,"c":0.350,"n":2.44,"r":0.35,"m":0.16},
{"g":1270500,"a":3.6,"b":0.45,"c":0.302,"n":2.37,"r":0.29,"m":0.13},
{"g":1274000,"a":5.5,"b":0.64,"c":0.345,"n":2.46,"r":0.34,"m":0.15},
{"g":1277500,"a":4.1,"b":0.43,"c":0.305,"n":2.35,"r":0.31,"m":0.12},
{"g":1281000,"a":5.3,"b":0.60,"c":0.349,"n":2.43,"r":0.33,"m":0.15},
{"g":1284500,"a":3.9,"b":0.44,"c":0.299,"n":2.38,"r":0.30,"m":0.12},
{"g":1288000,"a":5.7,"b":0.68,"c":0.347,"n":2.42,"r":0.36,"m":0.16},
{"g":1291500,"a":4.2,"b":0.42,"c":0.303,"n":2.36,"r":0.31,"m":0.13},
{"g":1295000,"a":5.2,"b":0.61,"c":0.352,"n":2.44,"r":0.34,"m":0.14},
{"g":1298500,"a":3.8,"b":0.45,"c":0.301,"n":2.37,"r":0.30,"m":0.11},
{"g":1302000,"a":5.6,"b":0.59,"c":0.346,"n":2.45,"r":0.35,"m":0.15},
{"g":1305500,"a":4.0,"b":0.41,"c":0.286,"n":2.35,"r":0.29,"m":0.12},
{"g":1309000,"a":5.4,"b":0.65,"c":0.348,"n":2.43,"r":0.34,"m":0.16},
{"g":1312500,"a":3.9,"b":0.43,"c":0.304,"n":2.38,"r":0.31,"m":0.13},
{"g":1316000,"a":5.5,"b":0.62,"c":0.345,"n":2.42,"r":0.33,"m":0.15},
{"g":1319500,"a":4.1,"b":0.44,"c":0.300,"n":2.36,"r":0.30,"m":0.12},
{"g":1323000,"a":5.3,"b":0.60,"c":0.351,"n":2.44,"r":0.36,"m":0.14},
{"g":1326500,"a":3.7,"b":0.42,"c":0.302,"n":2.37,"r":0.31,"m":0.12},
{"g":1330000,"a":5.75,"b":0.63,"c":0.347,"n":2.46,"r":0.34,"m":0.16},
{"g":1333500,"a":4.0,"b":0.35,"c":0.305,"n":2.35,"r":0.30,"m":0.13},
{"g":1337000,"a":5.4,"b":0.68,"c":0.349,"n":2.43,"r":0.35,"m":0.15},
{"g":1340500,"a":3.8,"b":0.43,"c":0.299,"n":2.38,"r":0.29,"m":0.11},
{"g":1344000,"a":5.6,"b":0.60,"c":0.346,"n":2.42,"r":0.34,"m":0.15},
{"g":1347500,"a":4.2,"b":0.45,"c":0.303,"n":2.36,"r":0.31,"m":0.12},
{"g":1351000,"a":5.2,"b":0.62,"c":0.350,"n":2.44,"r":0.33,"m":0.16},
{"g":1354500,"a":3.9,"b":0.41,"c":0.301,"n":2.37,"r":0.30,"m":0.13},
{"g":1358000,"a":5.5,"b":0.59,"c":0.347,"n":2.45,"r":0.36,"m":0.14},
{"g":1361500,"a":4.1,"b":0.44,"c":0.304,"n":2.35,"r":0.31,"m":0.12},
{"g":1365000,"a":5.3,"b":0.61,"c":0.345,"n":2.43,"r":0.34,"m":0.15},
{"g":1368500,"a":3.7,"b":0.42,"c":0.300,"n":2.38,"r":0.30,"m":0.12},
{"g":1372000,"a":5.6,"b":0.60,"c":0.352,"n":2.42,"r":0.35,"m":0.16},
{"g":1375500,"a":4.0,"b":0.45,"c":0.302,"n":2.36,"r":0.29,"m":0.13},
{"g":1379000,"a":5.4,"b":0.62,"c":0.348,"n":2.44,"r":0.34,"m":0.15},
{"g":1382500,"a":3.8,"b":0.43,"c":0.305,"n":2.37,"r":0.31,"m":0.11},
{"g":1386000,"a":5.5,"b":0.59,"c":0.346,"n":2.46,"r":0.33,"m":0.14},
{"g":1389500,"a":3.4,"b":0.35,"c":0.290,"n":2.35,"r":0.30,"m":0.12},
{"g":1393000,"a":5.75,"b":0.60,"c":0.349,"n":2.43,"r":0.36,"m":0.16},
{"g":1396500,"a":3.9,"b":0.42,"c":0.303,"n":2.38,"r":0.31,"m":0.13},
{"g":1400000,"a":5.2,"b":0.55,"c":0.362,"n":2.42,"r":0.34,"m":0.15}
]},
"columns": 2,
"spacing": {"row": 26, "column": 23},
"concat": [
 {
  "title": {"text": "(a)\u00a0\u00a0\u00a0\u00a0\u00a0\u00a0\u00a0\u00a0\u200b", "subtitle": "\u200b\u00a0\u00a0\u00a0\u00a0\u00a0\u00a0r(AG)", "dx": 10},
  "width": 556, "height": 291,
  "view": {"stroke": "black", "strokeWidth": 2.5},
  "mark": {"type": "line", "color": "black", "strokeWidth": 2.6},
  "encoding": {
   "x": {"field": "g", "type": "quantitative", "scale": {"domain": [0, 1400000], "nice": false}, "axis": {"values": [0,200000,400000,600000,800000,1000000,1200000,1400000], "format": "d", "title": "Generation"}},
   "y": {"field": "a", "type": "quantitative", "scale": {"domain": [0, 7], "nice": false}, "axis": {"values": [0,1,2,3,4,5,6,7], "format": "d", "title": "r(AG) Substitution Rate"}}
  }
 },
 {
  "title": {"text": "(b)\u00a0\u00a0\u00a0\u00a0\u00a0\u00a0\u00a0\u00a0\u200b", "subtitle": "\u200b\u00a0\u00a0\u00a0\u00a0\u00a0\u00a0r(AT)"},
  "width": 556, "height": 291,
  "view": {"stroke": "#8c8c8c", "strokeWidth": 2},
  "mark": {"type": "line", "color": "black", "strokeWidth": 2.6},
  "encoding": {
   "x": {"field": "g", "type": "quantitative", "scale": {"domain": [0, 1400000], "nice": false}, "axis": {"values": [0,200000,400000,600000,800000,1000000,1200000,1400000], "format": "d", "title": "Generation"}},
   "y": {"field": "b", "type": "quantitative", "scale": {"domain": [0, 1.2], "nice": false}, "axis": {"values": [0,0.2,0.4,0.6,0.8,1.0,1.2], "labelExpr": "datum.value == 0 ? '0' : format(datum.value, '.1f')", "title": "r(AT) Substitution Rate"}}
  }
 },
 {
  "title": {"text": "(c)\u00a0\u00a0\u00a0\u00a0\u00a0\u00a0\u00a0\u00a0\u00a0\u00a0\u00a0\u00a0\u00a0\u00a0\u00a0\u00a0\u00a0\u00a0\u00a0\u00a0\u00a0\u00a0\u00a0\u00a0\u00a0\u00a0\u00a0\u00a0\u200b", "subtitle": "\u200b\u00a0\u00a0\u00a0\u00a0\u00a0\u00a0Gamma Parameter"},
  "width": 556, "height": 291,
  "view": {"stroke": "black", "strokeWidth": 2.5},
  "mark": {"type": "line", "color": "black", "strokeWidth": 2.3},
  "encoding": {
   "x": {"field": "g", "type": "quantitative", "scale": {"domain": [0, 1400000], "nice": false}, "axis": {"values": [0,200000,400000,600000,800000,1000000,1200000,1400000], "format": "d", "title": "Generation"}},
   "y": {"field": "c", "type": "quantitative", "scale": {"domain": [0, 0.6], "nice": false}, "axis": {"values": [0,0.1,0.2,0.3,0.4,0.5,0.6], "labelExpr": "datum.value == 0 ? '0' : format(datum.value, '.1f')", "title": "Gamma Parameter"}}
  }
 },
 {
  "title": {"text": "(d)\u00a0\u00a0\u00a0\u00a0\u00a0\u00a0\u00a0\u00a0\u00a0\u00a0\u00a0\u00a0\u00a0\u00a0\u00a0\u00a0\u00a0\u00a0\u00a0\u00a0\u00a0\u00a0\u200b", "subtitle": "\u200b\u00a0\u00a0\u00a0\u00a0\u00a0\u00a0SS Parameters"},
  "width": 556, "height": 291,
  "view": {"stroke": "#222", "strokeWidth": 2.2},
  "encoding": {
   "x": {"field": "g", "type": "quantitative", "scale": {"domain": [0, 1400000], "nice": false}, "axis": {"values": [0,200000,400000,600000,800000,1000000,1200000,1400000], "format": "d", "title": "Generation"}}
  },
  "layer": [
   {"mark": {"type": "line", "color": "black", "strokeWidth": 2.4},
    "encoding": {"y": {"field": "n", "type": "quantitative", "scale": {"domain": [0, 2.5], "nice": false}, "axis": {"values": [0,0.5,1,1.5,2,2.5], "format": "~g", "title": "SS Parameters", "titleFontSize": 18, "labelFontSize": 16}}}},
   {"mark": {"type": "line", "color": "black", "strokeWidth": 1.8},
    "encoding": {"y": {"field": "r", "type": "quantitative"}}},
   {"mark": {"type": "line", "color": "#3a3a3a", "strokeWidth": 1.4},
    "encoding": {"y": {"field": "m", "type": "quantitative"}}},
   {"data": {"values": [
     {"lab": "SS(ND4)", "tx": 1394000, "ty": 2.09, "x1": 1166000, "y1": 2.16, "x2": 1050000, "y2": 2.35},
     {"lab": "SS(rRNA, 12s+16s)", "tx": 1394000, "ty": 1.05, "x1": 887000, "y1": 1.10, "x2": 653000, "y2": 0.35},
     {"lab": "SS(c-mos)", "tx": 1394000, "ty": 0.58, "x1": 1113000, "y1": 0.61, "x2": 970000, "y2": 0.16}
    ]},
    "layer": [
     {"mark": {"type": "rule", "color": "black", "strokeWidth": 2},
      "encoding": {"x": {"field": "x1", "type": "quantitative"}, "y": {"field": "y1", "type": "quantitative"}, "x2": {"field": "x2"}, "y2": {"field": "y2"}}},
     {"transform": [{"filter": "datum.lab == 'SS(ND4)'"}],
      "mark": {"type": "point", "shape": "triangle-up", "filled": true, "color": "black", "size": 110, "opacity": 1, "angle": 296},
      "encoding": {"x": {"field": "x2", "type": "quantitative"}, "y": {"field": "y2", "type": "quantitative"}}},
     {"transform": [{"filter": "datum.lab == 'SS(rRNA, 12s+16s)'"}],
      "mark": {"type": "point", "shape": "triangle-up", "filled": true, "color": "black", "size": 110, "opacity": 1, "angle": 227},
      "encoding": {"x": {"field": "x2", "type": "quantitative"}, "y": {"field": "y2", "type": "quantitative"}}},
     {"transform": [{"filter": "datum.lab == 'SS(c-mos)'"}],
      "mark": {"type": "point", "shape": "triangle-up", "filled": true, "color": "black", "size": 110, "opacity": 1, "angle": 228},
      "encoding": {"x": {"field": "x2", "type": "quantitative"}, "y": {"field": "y2", "type": "quantitative"}}},
     {"mark": {"type": "text", "align": "right", "baseline": "middle", "fontSize": 18, "fontWeight": "bold", "color": "black"},
      "encoding": {"x": {"field": "tx", "type": "quantitative"}, "y": {"field": "ty", "type": "quantitative"}, "text": {"field": "lab"}}}
    ]}
  ]
 }
]
}
